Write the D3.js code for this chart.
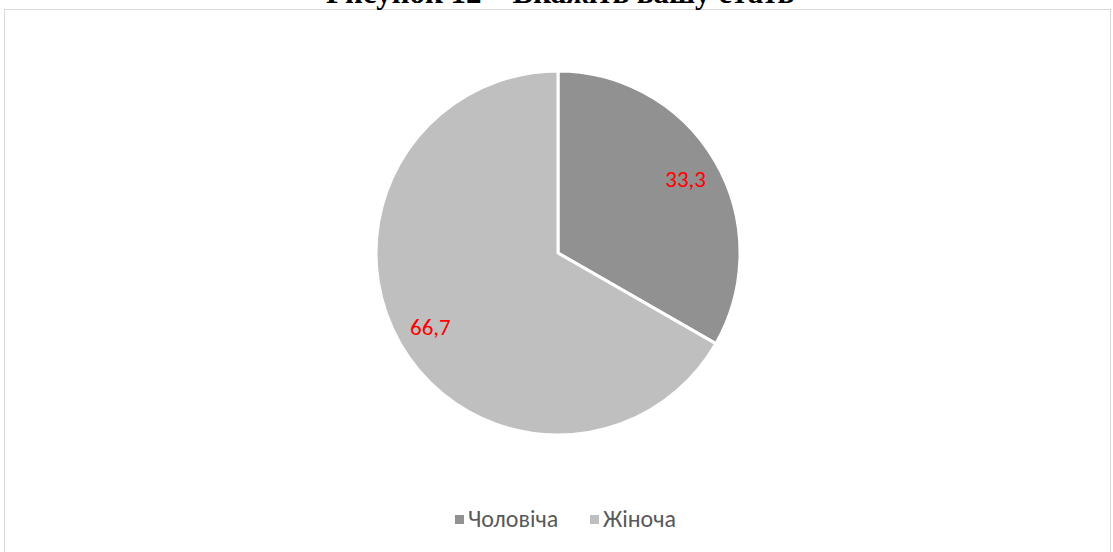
<!DOCTYPE html>
<html><head><meta charset="utf-8">
<script src="https://cdn.jsdelivr.net/npm/d3@7"></script>
<style>body{margin:0;background:#fff;overflow:hidden}</style>
</head><body>
<svg id="c" width="1113" height="552"></svg>
<script>
const categories = ["Чоловіча", "Жіноча"];
const values = [33.3, 66.7];
const labels = ["33,3", "66,7"];
const colors = ["#919191", "#bfbfbf"];
const title = "Рисунок 12 – Вкажіть вашу стать";

const svg = d3.select("#c");
// frame
svg.append("rect").attr("x", 4.5).attr("y", 9.5).attr("width", 1106).attr("height", 560)
  .attr("fill", "#fff").attr("stroke", "#d9d9d9").attr("stroke-width", 1);
// title (clipped at top edge, as in the reference)
svg.append("text").attr("x", 560).attr("y", 3).attr("text-anchor", "middle")
  .attr("font-family", "Liberation Serif").attr("font-weight", "bold").attr("font-size", 31)
  .attr("fill", "#000").text(title);

const cx = 558, cy = 253, r = 182;
const pie = d3.pie().sort(null).value(d => d)(values);
const arc = d3.arc().innerRadius(0).outerRadius(r);
const g = svg.append("g").attr("transform", `translate(${cx},${cy})`);
g.selectAll("path").data(pie).enter().append("path")
  .attr("d", arc).attr("fill", (d, i) => colors[i])
  .attr("stroke", "#fff").attr("stroke-width", 3).attr("stroke-linejoin", "miter");
const labelArc = d3.arc().innerRadius(r * 0.81).outerRadius(r * 0.81);
g.selectAll("text.lbl").data(pie).enter().append("text")
  .attr("class", "lbl")
  .attr("transform", d => `translate(${labelArc.centroid(d)})`)
  .attr("text-anchor", "middle").attr("dominant-baseline", "central")
  .attr("font-family", "Carlito, 'Liberation Sans', sans-serif").attr("font-size", 23)
  .attr("fill", "#ff0000").text((d, i) => labels[i]);

// legend
const lx = [455, 590];
const leg = svg.append("g");
categories.forEach((c, i) => {
  leg.append("rect").attr("x", lx[i]).attr("y", 515).attr("width", 9).attr("height", 9).attr("fill", colors[i]);
  leg.append("text").attr("x", lx[i] + 13).attr("y", 527)
    .attr("font-family", "Carlito, 'Liberation Sans', sans-serif").attr("font-size", 24)
    .attr("fill", "#595959").text(c);
});
</script>
</body></html>
